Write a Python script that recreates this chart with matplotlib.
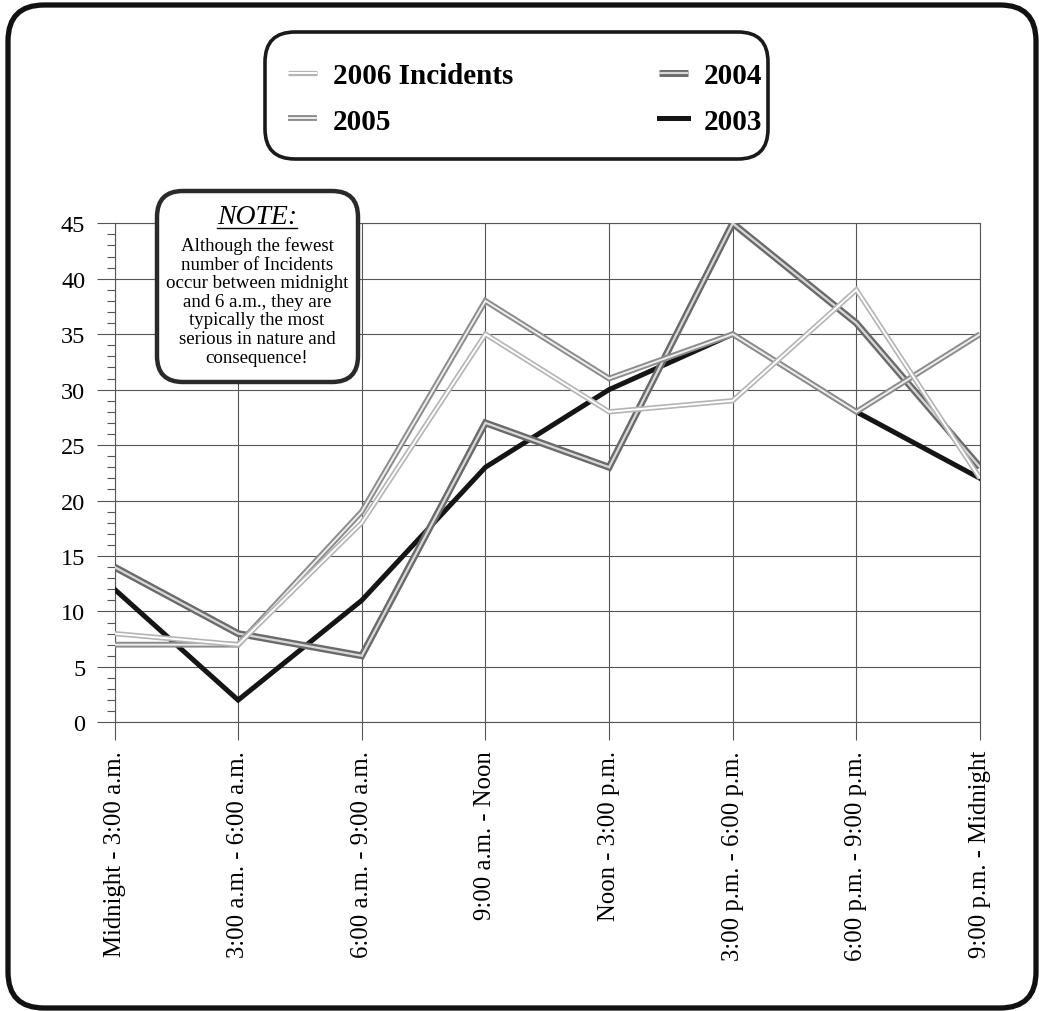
import numpy as np
import matplotlib
matplotlib.use("Agg")
import matplotlib.pyplot as plt
from matplotlib.patches import FancyBboxPatch
from matplotlib.lines import Line2D
import matplotlib.patheffects as pe

plt.rcParams['font.family'] = ['Liberation Serif', 'DejaVu Serif']

# Incidents by three-hour period of the day
periods = ["Midnight - 3:00 a.m.", "3:00 a.m. - 6:00 a.m.", "6:00 a.m. - 9:00 a.m.",
           "9:00 a.m. - Noon", "Noon - 3:00 p.m.", "3:00 p.m. - 6:00 p.m.",
           "6:00 p.m. - 9:00 p.m.", "9:00 p.m. - Midnight"]
incidents_2006 = [8, 7, 18, 35, 28, 29, 39, 22]
incidents_2005 = [7, 7, 19, 38, 31, 35, 28, 35]
incidents_2004 = [14, 8, 6, 27, 23, 45, 36, 23]
incidents_2003 = [12, 2, 11, 23, 30, 35, 28, 22]

W, H, DPI = 1039, 1012, 100
fig = plt.figure(figsize=(W / DPI, H / DPI), dpi=DPI)


def px_box(x0, y0, x1, y1):
    """Pixel box (top-left origin) -> inches rectangle for dpi_scale_trans."""
    return x0 / DPI, (H - y1) / DPI, (x1 - x0) / DPI, (y1 - y0) / DPI


ax_l, ax_r, ax_t, ax_b = 114.5, 980, 224.3, 723.3
ax = fig.add_axes([ax_l / W, 1 - ax_b / H, (ax_r - ax_l) / W, (ax_b - ax_t) / H])

x = np.arange(len(periods))
grid_c = '#555555'


def hollow(outer, inner, wo, wi):
    return dict(color=inner, lw=wi, solid_capstyle='butt', solid_joinstyle='miter',
                path_effects=[pe.Stroke(linewidth=wo, foreground=outer), pe.Normal()])


l2003, = ax.plot(x, incidents_2003, color='#151515', lw=3.6, solid_joinstyle='miter',
                 label='2003', zorder=3)
l2004, = ax.plot(x, incidents_2004, label='2004', zorder=4,
                 **hollow('#6a6a6a', '#d8d8d8', 5.0, 1.6))
l2005, = ax.plot(x, incidents_2005, label='2005', zorder=5,
                 **hollow('#8c8c8c', '#eeeeee', 4.2, 1.4))
l2006, = ax.plot(x, incidents_2006, label='2006 Incidents', zorder=6,
                 **hollow('#b4b4b4', '#ffffff', 3.8, 1.4))

ax.set_xlim(0, 7)
ax.set_ylim(0, 45)
ax.set_xticks(x)
ax.set_xticklabels(periods, rotation=90, fontsize=17.8)
ax.set_yticks(np.arange(0, 46, 5))
ax.set_yticks(np.arange(0, 46, 1), minor=True)
ax.tick_params(axis='y', which='major', direction='out', length=13, width=0.8,
               color=grid_c, labelsize=17.5, pad=8)
ax.tick_params(axis='y', which='minor', direction='out', length=6, width=0.8, color=grid_c)
ax.tick_params(axis='x', which='major', direction='out', length=13, width=0.8,
               color=grid_c, pad=7)
ax.grid(True, which='major', color=grid_c, lw=0.8)
ax.set_axisbelow(True)
for s in ax.spines.values():
    s.set_color(grid_c)
    s.set_linewidth(0.8)

# outer rounded frame
x0, y0, w, h = px_box(8, 6, 1036, 1009)
fig.add_artist(FancyBboxPatch((x0, y0), w, h, boxstyle="round,pad=0,rounding_size=0.36",
                              transform=fig.dpi_scale_trans, fc='none', ec='#111111',
                              lw=3.8, zorder=10))

# legend frame
x0, y0, w, h = px_box(265, 33, 768, 160)
fig.add_artist(FancyBboxPatch((x0, y0), w, h, boxstyle="round,pad=0,rounding_size=0.3",
                              transform=fig.dpi_scale_trans, fc='white', ec='#1a1a1a',
                              lw=2.6, zorder=1))
leg = fig.legend(handles=[l2006, l2005, l2004, l2003], loc='center',
                 bbox_to_anchor=(525 / W, 1 - 99.5 / H), ncol=2, frameon=False,
                 prop={'weight': 'bold', 'size': 21}, handlelength=1.0,
                 handletextpad=0.55, columnspacing=5.0, labelspacing=0.63,
                 borderpad=0, borderaxespad=0)
leg.set_zorder(2)

# note box
x0, y0, w, h = px_box(157, 192, 358, 383)
fig.add_artist(FancyBboxPatch((x0, y0), w, h, boxstyle="round,pad=0,rounding_size=0.26",
                              transform=fig.dpi_scale_trans, fc='white', ec='#2a2a2a',
                              lw=3.2, zorder=20))
note_t = fig.text(257 / W, 1 - 217 / H, "NOTE:", ha='center', va='center', style='italic',
                  fontsize=20, zorder=21)
fig.text(257 / W, 1 - 302 / H,
         "Although the fewest\nnumber of Incidents\noccur between midnight\n"
         "and 6 a.m., they are\ntypically the most\nserious in nature and\nconsequence!",
         ha='center', va='center', fontsize=13.6, linespacing=1.12, zorder=21)

fig.canvas.draw()
bb = note_t.get_window_extent()
uy = bb.y0 + 1
fig.add_artist(Line2D([bb.x0 / W, bb.x1 / W], [uy / H, uy / H], transform=fig.transFigure,
                      color='black', lw=1.0, zorder=21))

fig.savefig("out.png", dpi=DPI, facecolor='white')
